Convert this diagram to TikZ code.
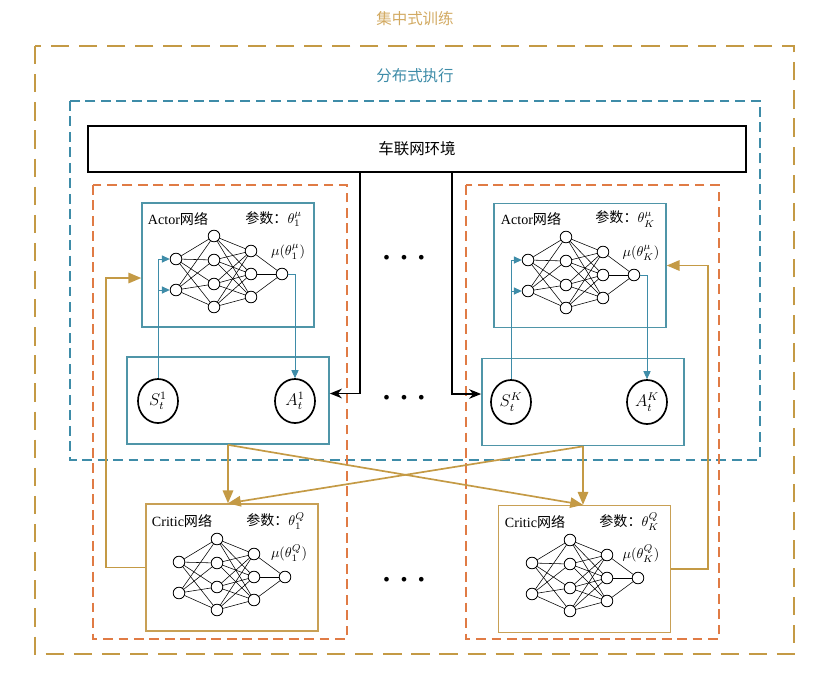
\documentclass[tikz,border=0pt]{standalone}
\usepackage{fontspec}
\setmainfont{Liberation Serif}
\newfontfamily\cjk{Noto Sans CJK SC}
\usepackage{xcolor}
\usetikzlibrary{shapes.geometric, arrows.meta, positioning, calc}

\definecolor{goldc}{HTML}{C49A45}
\definecolor{goldtxt}{HTML}{D2AA62}
\definecolor{execc}{HTML}{3E8CA8}
\definecolor{boxc}{HTML}{4F95A8}
\definecolor{orangec}{HTML}{E07B45}
\definecolor{criticc}{HTML}{C8A055}

\begin{document}
\begin{tikzpicture}[x=0.025cm, y=-0.025cm,
    neuron/.style={circle, draw, line width=0.6pt, minimum size=2.9mm, inner sep=0pt, fill=white},
    wire/.style={line width=0.4pt},
    envbox/.style={rectangle, draw, line width=1.2pt, minimum width=16.45cm, minimum height=1.15cm},
    actbox/.style={rectangle, draw=boxc, line width=1pt, minimum width=4.3cm, minimum height=3.1cm},
    statebox/.style={rectangle, draw=boxc, line width=1.2pt, minimum width=5.05cm, minimum height=2.175cm},
    critbox/.style={rectangle, draw=criticc, line width=1pt, minimum width=4.3cm, minimum height=3.175cm},
    var/.style={ellipse, draw, line width=1.2pt, minimum width=1cm, minimum height=1.1cm, inner sep=0pt, font=\large},
    bigtext/.style={font=\fontsize{11}{13}\selectfont\cjk},
    trainframe/.style={draw=goldc, line width=1.4pt, dash pattern=on 13pt off 7pt},
    execframe/.style={draw=execc, line width=1pt, dash pattern=on 7pt off 4pt},
    agentframe/.style={draw=orangec, line width=1pt, dash pattern=on 7pt off 4pt},
    goldarrow/.style={-{Triangle[length=3.2mm, width=2.6mm]}, goldc, line width=1.2pt},
    blackarrow/.style={-{Stealth[length=3mm, width=2.4mm]}, line width=1.2pt},
    tealarrow/.style={-{Triangle[length=2mm, width=1.8mm]}, execc, line width=0.6pt},
    dots/.style={font=\footnotesize}
]
    \useasboundingbox (0,0) rectangle (827,672);

    % Frames
    \draw[trainframe] (35,46) rectangle (794,654);
    \draw[execframe] (70,101) rectangle (760,460);
    \draw[agentframe] (93,185) rectangle (347,639);
    \draw[agentframe] (466,185) rectangle (719,639);

    \node[bigtext, text=goldtxt] (train) at (415,19) {集中式训练};
    \node[bigtext, text=execc] (exec) at (415,76) {分布式执行};

    % Main blocks
    \node[envbox, bigtext] (env) at (417,149) {车联网环境};
    \node[actbox] (act1) at (228,265) {};
    \node[actbox] (actK) at (580,265.5) {};
    \node[statebox] (st1) at (228,400.5) {};
    \node[statebox] (stK) at (583,402) {};
    \node[critbox] (cri1) at (232,567.5) {};
    \node[critbox] (criK) at (584.5,569) {};

    % States and actions
    \node[var] (s1) at (158,401) {$S^{1}_{t}$};
    \node[var] (a1) at (295,401) {$A^{1}_{t}$};
    \node[var] (sK) at (511,402) {$S^{K}_{t}$};
    \node[var] (aK) at (647,402) {$A^{K}_{t}$};

    % Networks
    \foreach \p/\dx/\dy in {na1/0/0, naK/352/1, nc1/3/303, ncK/356/304}{
        \begin{scope}[shift={(\dx,\dy)}]
            \foreach \i/\y in {1/259, 2/290} \node[neuron] (\p-in\i) at (176,\y) {};
            \foreach \i/\y in {1/236, 2/260, 3/284, 4/307} \node[neuron] (\p-ha\i) at (214,\y) {};
            \foreach \i/\y in {1/251, 2/274, 3/297} \node[neuron] (\p-hb\i) at (251,\y) {};
            \node[neuron] (\p-out) at (282,274) {};
            \foreach \i in {1,2} \foreach \j in {1,...,4} \draw[wire] (\p-in\i) -- (\p-ha\j);
            \foreach \i in {1,...,4} \foreach \j in {1,2,3} \draw[wire] (\p-ha\i) -- (\p-hb\j);
            \foreach \i in {1,2,3} \draw[wire] (\p-hb\i) -- (\p-out);
        \end{scope}
    }

    % Labels
    \node[anchor=west] (act1-name) at (143,219) {Actor{\cjk 网络}};
    \node[anchor=east] (act1-par) at (307,219) {{\cjk 参数：}$\theta_1^{\mu}$};
    \node (act1-mu) at (288,252) {$\mu(\theta_1^{\mu})$};
    \node[anchor=west] (actK-name) at (496,219) {Actor{\cjk 网络}};
    \node[anchor=east] (actK-par) at (660,219) {{\cjk 参数：}$\theta_K^{\mu}$};
    \node (actK-mu) at (641,253) {$\mu(\theta_K^{\mu})$};
    \node[anchor=west] (cri1-name) at (147,521) {Critic{\cjk 网络}};
    \node[anchor=east] (cri1-par) at (310,521) {{\cjk 参数：}$\theta_1^{Q}$};
    \node (cri1-mu) at (289,553) {$\mu(\theta_1^{Q})$};
    \node[anchor=west] (criK-name) at (500,522) {Critic{\cjk 网络}};
    \node[anchor=east] (criK-par) at (664,522) {{\cjk 参数：}$\theta_K^{Q}$};
    \node (criK-mu) at (641,554) {$\mu(\theta_K^{Q})$};

    \node[dots] (dots1) at (404,258) {$\bullet\hspace{2.2mm}\bullet\hspace{2.2mm}\bullet$};
    \node[dots] (dots2) at (404,398) {$\bullet\hspace{2.2mm}\bullet\hspace{2.2mm}\bullet$};
    \node[dots] (dots3) at (404,580) {$\bullet\hspace{2.2mm}\bullet\hspace{2.2mm}\bullet$};

    % Environment to agents
    \draw[blackarrow] ([xshift=-1.425cm]env.south) |- ([yshift=0.175cm]st1.east);
    \draw[blackarrow] ([xshift=0.875cm]env.south) |- ([yshift=0.2cm]stK.west);

    % Actor inputs and outputs
    \draw[tealarrow] (s1.north) |- (na1-in1.west);
    \draw[tealarrow] (s1.north |- na1-in2) -- (na1-in2.west);
    \draw[tealarrow] (na1-out.east) -| (a1.north);
    \draw[tealarrow] (sK.north) |- (naK-in1.west);
    \draw[tealarrow] (sK.north |- naK-in2) -- (naK-in2.west);
    \draw[tealarrow] (naK-out.east) -| (aK.north);

    % Training flow
    \draw[goldarrow] (st1.south) -- (st1.south |- cri1.north);
    \draw[goldarrow] (st1.south) -- (stK.south |- criK.north);
    \draw[goldarrow] (stK.south) -- (stK.south |- criK.north);
    \draw[goldarrow] (stK.south) -- (st1.south |- cri1.north);

    % Feedback
    \draw[goldarrow] (cri1.west) -- ++(-39,0) |- ([yshift=-0.325cm]act1.west);
    \draw[goldarrow] (criK.east) -- ++(37,0) |- (actK.east);

\end{tikzpicture}
\end{document}
